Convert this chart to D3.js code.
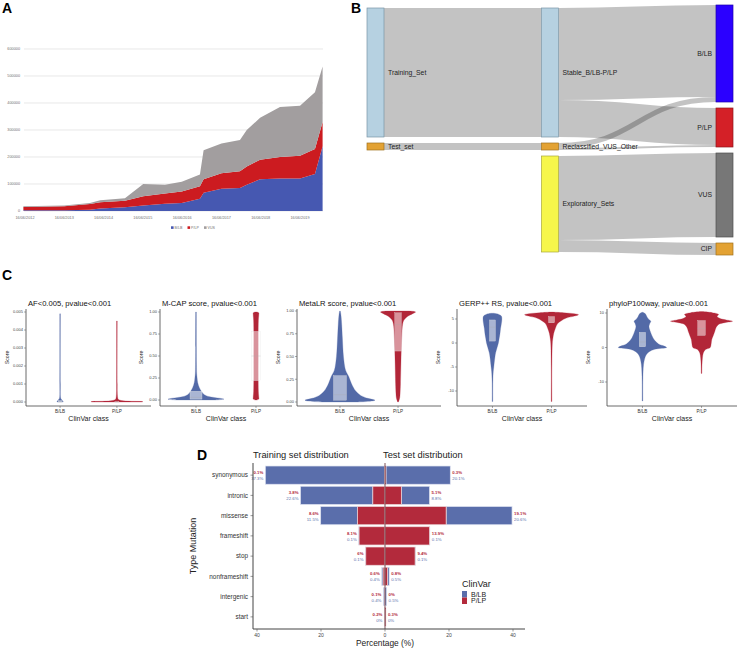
<!DOCTYPE html>
<html><head><meta charset="utf-8">
<script src="https://cdn.jsdelivr.net/npm/d3@7"></script>
<style>body{margin:0;background:#fff}svg{display:block;font-family:"Liberation Sans",Arial,sans-serif}</style>
</head><body><svg id="c" width="738" height="651"></svg>
<script>
// ================= DATA =================
// Panel A : ClinVar variants over time (stacked)
const aDates = ["2012-06-01","2013-06-16","2014-02-10","2014-05-16","2015-01-01","2015-06-20","2016-01-08","2016-06-12","2016-11-28","2017-01-01","2017-06-16","2017-12-05","2018-02-06","2018-06-10","2018-12-12","2019-06-16","2019-11-02","2020-01-12"];
const aBLB = [3000,3000,5000,9000,14000,20000,27000,30000,45000,68000,82000,85000,97000,118000,120000,120000,137000,240000];
const aPLP = [12000,15000,21000,23000,24000,35000,38000,42000,47000,50000,58000,62000,68000,72000,80000,85000,93000,90000];
const aVUS = [3000,2000,4000,8000,9000,45000,32000,36000,43000,107000,110000,116000,135000,155000,185000,185000,210000,205000];
const aSeries = ["B/LB","P/LP","VUS"];
const aYTicks = [0,100000,200000,300000,400000,500000,600000];
const aXTicks = ["16/06/2012","16/06/2013","16/06/2014","16/06/2015","16/06/2016","16/06/2017","16/06/2018","16/06/2019"];

// Panel B : Sankey
const bNodes = ["Training_Set","Test_set","Stable_B/LB-P/LP","Reclassified_VUS_Other","Exploratory_Sets","B/LB","P/LP","VUS","CIP"];
const bColumns = [0,0,1,1,1,2,2,2,2];
const bLinkSource = ["Training_Set","Test_set","Stable_B/LB-P/LP","Stable_B/LB-P/LP","Reclassified_VUS_Other","Reclassified_VUS_Other","Exploratory_Sets","Exploratory_Sets"];
const bLinkTarget = ["Stable_B/LB-P/LP","Reclassified_VUS_Other","B/LB","P/LP","B/LB","P/LP","VUS","CIP"];
const bLinkValue = [129,7,92,37,5,2,84,12];

// Panel C : violins  [score, relative density]
const cTitles = ["AF<0.005, pvalue<0.001","M-CAP score, pvalue<0.001","MetaLR score, pvalue<0.001","GERP++ RS, pvalue<0.001","phyloP100way, pvalue<0.001"];
const cClasses = ["B/LB","P/LP"];
const afBLB = [[0,0.12],[0.00005,0.11],[0.0001,0.08],[0.00015,0.05],[0.0002,0.028],[0.0003,0.015],[0.001,0.011],[0.0049,0.009]];
const afPLP = [[0,0.95],[0.00002,1],[0.00005,0.4],[0.0001,0.12],[0.00015,0.05],[0.0003,0.025],[0.0006,0.015],[0.001,0.011],[0.0045,0.009]];
const mcapBLB = [[0,0.7],[0.01,1],[0.02,0.85],[0.04,0.45],[0.06,0.3],[0.1,0.19],[0.14,0.12],[0.2,0.06],[0.25,0.04],[0.3,0.025],[0.4,0.018],[0.6,0.014],[1,0.01]];
const mcapPLP = [[0,0.03],[0.01,0.1],[0.03,0.1],[0.1,0.085],[0.5,0.08],[0.9,0.085],[0.97,0.1],[0.99,0.1],[1,0.03]];
const metaBLB = [[0,0.5],[0.01,0.9],[0.02,1],[0.04,0.8],[0.07,0.6],[0.12,0.45],[0.2,0.33],[0.28,0.25],[0.35,0.16],[0.5,0.1],[0.7,0.07],[0.85,0.05],[0.95,0.03],[1,0.01]];
const metaPLP = [[0,0.005],[0.02,0.03],[0.05,0.05],[0.1,0.06],[0.2,0.07],[0.46,0.085],[0.6,0.095],[0.75,0.11],[0.85,0.13],[0.9,0.17],[0.94,0.27],[0.97,0.42],[0.99,0.5],[1,0.3]];
const gerpBLB = [[-12.2,0.01],[-8,0.015],[-6,0.03],[-5,0.05],[-3,0.09],[-2,0.12],[-1,0.17],[0,0.22],[1,0.25],[2,0.28],[3,0.3],[4,0.33],[5,0.35],[5.6,0.33],[6,0.22],[6.2,0.05]];
const gerpPLP = [[-12.2,0.01],[-5,0.012],[0,0.03],[1,0.05],[2,0.08],[3,0.14],[4,0.22],[4.6,0.35],[5.2,0.55],[5.6,0.85],[5.9,1],[6.1,0.85],[6.3,0.45],[6.45,0.05]];
const phyloBLB = [[-15.5,0.005],[-10,0.012],[-7,0.02],[-5,0.035],[-3,0.08],[-2,0.13],[-1.2,0.22],[-0.5,0.4],[0,0.78],[0.4,0.7],[1,0.52],[2,0.4],[3,0.33],[4,0.28],[5,0.24],[6,0.21],[7,0.24],[7.6,0.27],[8.2,0.2],[9,0.14],[9.6,0.11],[10,0.06],[10.2,0.01]];
const phyloPLP = [[-7.5,0.005],[-5,0.015],[-3,0.03],[-1.5,0.06],[-0.6,0.13],[0,0.28],[1,0.31],[2.3,0.33],[3.5,0.38],[4.7,0.43],[5.8,0.47],[6.7,0.55],[7.2,0.75],[7.6,1],[8,0.8],[8.4,0.6],[9,0.5],[9.6,0.55],[10.1,0.35],[10.4,0.02]];
// boxes [q1, median, q3]
const afBox = [[0,0.00001,0.00008],[0,0.000005,0.00002]];
const mcapBox = [[0.01,0.03,0.1],[0.22,0.5,0.78]];
const metaBox = [[0.02,0.08,0.29],[0.56,0.85,0.98]];
const gerpBox = [[0.4,3.3,4.8],[4.2,5,5.5]];
const phyloBox = [[0.2,1.6,4.4],[3.5,5.5,7.8]];
const afTicks = [0,0.001,0.002,0.003,0.004,0.005];
const unitTicks = [0,0.25,0.5,0.75,1];
const gerpTicks = [-10,-5,0,5];
const phyloTicks = [-10,0,10];

// Panel D : mutation type distribution (%)
const dTypes = ["synonymous","intronic","missense","frameshift","stop","nonframeshift","intergenic","start"];
const dTrainBLB = [37.3,22.6,11.5,0.1,0.1,0.4,0.4,0];
const dTrainPLP = [0.1,3.8,8.6,8.1,6,0.6,0.1,0.2];
const dTestBLB = [20.1,8.8,20.6,0.1,0.1,0.5,0.5,0];
const dTestPLP = [0.3,5.1,19.1,13.9,9.4,0.8,0,0.3];
const dTicks = [-40,-20,0,20,40];

// ================= DRAW =================
const svg = d3.select("#c");
svg.append("rect").attr("width",738).attr("height",651).attr("fill","#fff");
function letter(t,x,y){svg.append("text").attr("x",x).attr("y",y).attr("font-size",14).attr("font-weight","bold").text(t);}
letter("A",2,13); letter("B",351,13); letter("C",2,280); letter("D",197,460);

// ---------- Panel A ----------
(function(){
  const g = svg.append("g");
  const parse = d3.timeParse("%Y-%m-%d"), parse2 = d3.timeParse("%d/%m/%Y");
  const x = d3.scaleTime().domain([parse("2012-06-16"),parse("2019-06-16")]).range([25,300]);
  const y = d3.scaleLinear().domain([0,600000]).range([211,49]);
  aYTicks.forEach(t=>{
    g.append("line").attr("x1",24).attr("x2",323).attr("y1",y(t)).attr("y2",y(t)).attr("stroke","#d9d9d9").attr("stroke-width",0.6);
    g.append("text").attr("x",20).attr("y",y(t)+1.3).attr("text-anchor","end").attr("font-size",3.8).attr("fill","#6f6f6f").text(t);
  });
  const rows = aDates.map((d,i)=>({date:parse(d),"B/LB":aBLB[i],"P/LP":aPLP[i],"VUS":aVUS[i]}));
  const st = d3.stack().keys(aSeries)(rows);
  const col = {"B/LB":"#4658b1","P/LP":"#cc1b20","VUS":"#a29e9f"};
  const area = d3.area().x(d=>x(d.data.date)).y0(d=>y(d[0])).y1(d=>y(d[1]));
  g.selectAll("path.ar").data(st).join("path").attr("d",area).attr("fill",d=>col[d.key]);
  aXTicks.forEach(s=>{
    g.append("text").attr("x",x(parse2(s))).attr("y",218.5).attr("text-anchor","middle").attr("font-size",3.8).attr("fill","#6f6f6f").text(s);
  });
  const lx = d3.scalePoint().domain(aSeries).range([171,204]);
  aSeries.forEach(k=>{
    g.append("rect").attr("x",lx(k)).attr("y",226.3).attr("width",2.6).attr("height",2.6).attr("fill",col[k]);
    g.append("text").attr("x",lx(k)+3.6).attr("y",228.8).attr("font-size",3.6).attr("fill","#6f6f6f").text(k);
  });
})();

// ---------- Panel B ----------
(function(){
  const g = svg.append("g");
  const nodes = bNodes.map((n,i)=>({name:n,col:bColumns[i],ins:[],outs:[]}));
  const byName = Object.fromEntries(nodes.map(n=>[n.name,n]));
  const links = bLinkSource.map((s,i)=>({source:byName[s],target:byName[bLinkTarget[i]],value:bLinkValue[i]}));
  links.forEach(l=>{l.source.outs.push(l);l.target.ins.push(l);});
  nodes.forEach(n=>n.value=Math.max(d3.sum(n.ins,l=>l.value),d3.sum(n.outs,l=>l.value)));
  const top=5,bottom=255,pad=6,nw=17;
  const cx = d3.scalePoint().domain([0,1,2]).range([367,716]);
  const cols = d3.groups(nodes,n=>n.col).map(d=>d[1]);
  const ky = d3.min(cols,c=>(bottom-top-(c.length-1)*pad)/d3.sum(c,n=>n.value));
  const sc = d3.scaleLinear().domain([0,1]).range([0,ky]);
  cols.forEach(c=>{
    const h = d3.sum(c,n=>sc(n.value))+(c.length-1)*pad;
    let yy = top+(bottom-top-h)/2;
    c.forEach(n=>{n.x0=cx(n.col);n.x1=n.x0+nw;n.y0=yy;n.y1=yy+sc(n.value);yy=n.y1+pad;});
  });
  nodes.filter(n=>n.col===0).forEach(n=>{const t=n.outs[0].target;n.y0=t.y0;n.y1=n.y0+sc(n.value);});
  nodes.forEach(n=>{
    let o=n.y0; n.outs.sort((a,b)=>a.target.y0-b.target.y0).forEach(l=>{l.sy=o+sc(l.value)/2;o+=sc(l.value);});
    let i=n.y0; n.ins.sort((a,b)=>a.source.y0-b.source.y0).forEach(l=>{l.ty=i+sc(l.value)/2;i+=sc(l.value);});
  });
  const lk = d3.linkHorizontal().source(d=>[d.source.x1,d.sy]).target(d=>[d.target.x0,d.ty]);
  g.selectAll("path.lk").data(links).join("path").attr("d",lk).attr("fill","none")
   .attr("stroke","#000").attr("stroke-opacity",0.235).attr("stroke-width",d=>sc(d.value));
  const fill = {"Training_Set":"#b6d1e1","Stable_B/LB-P/LP":"#b6d1e1","Test_set":"#e3a233","Reclassified_VUS_Other":"#e3a233","CIP":"#e3a233","Exploratory_Sets":"#f6f64b","B/LB":"#2b00ff","P/LP":"#d42027","VUS":"#777777"};
  const strokeC = {"Training_Set":"#7a95a6","Stable_B/LB-P/LP":"#7a95a6","Test_set":"#a0721f","Reclassified_VUS_Other":"#a0721f","CIP":"#a0721f","Exploratory_Sets":"#a8a83a","B/LB":"#1c00aa","P/LP":"#8e151a","VUS":"#4f4f4f"};
  g.selectAll("rect.nd").data(nodes).join("rect").attr("x",d=>d.x0).attr("y",d=>d.y0).attr("width",nw).attr("height",d=>d.y1-d.y0)
   .attr("fill",d=>fill[d.name]).attr("stroke",d=>strokeC[d.name]).attr("stroke-width",0.7);
  g.selectAll("text.nd").data(nodes).join("text")
   .attr("x",d=>d.col===2?d.x0-4:d.x1+4).attr("y",d=>(d.y0+d.y1)/2+2.4)
   .attr("text-anchor",d=>d.col===2?"end":"start").attr("font-size",6.8).attr("fill","#222").text(d=>d.name);
})();

// ---------- Panel C ----------
(function(){
  const blue="#536aa7", red="#b22638";
  const subs = [
    {title:cTitles[0],v:[afBLB,afPLP],box:[afBox[0],afBox[1]],ticks:afTicks,fmt:d3.format(".3f"),dom:[0,0.005],rng:[402,312],x0:26,x1:151,pad:0.6,mh:26,bh:[2,2]},
    {title:cTitles[1],v:[mcapBLB,mcapPLP],box:mcapBox,ticks:unitTicks,fmt:d3.format(".2f"),dom:[0,1],rng:[400,312],x0:160,x1:292,pad:0.6,mh:28,bh:[6,4.5]},
    {title:cTitles[2],v:[metaBLB,metaPLP],box:metaBox,ticks:unitTicks,fmt:d3.format(".2f"),dom:[0,1],rng:[402,311],x0:297,x1:441,pad:0.74,mh:35,bh:[6.5,3.3]},
    {title:cTitles[3],v:[gerpBLB,gerpPLP],box:gerpBox,ticks:gerpTicks,fmt:d=>String(d),dom:[-10,5],rng:[391,319],x0:457,x1:587,pad:0.6,mh:27,bh:[3,3]},
    {title:cTitles[4],v:[phyloBLB,phyloPLP],box:phyloBox,ticks:phyloTicks,fmt:d=>String(d),dom:[-10,10],rng:[382,313],x0:607,x1:737,pad:0.6,mh:31,bh:[3.2,3.8]}
  ];
  const yTop=309, yBot=406;
  subs.forEach(s=>{
    const g = svg.append("g");
    const y = d3.scaleLinear().domain(s.dom).range(s.rng);
    const x = d3.scalePoint().domain(cClasses).range([s.x0,s.x1]).padding(s.pad);
    const w = d3.scaleLinear().domain([0,1]).range([0,s.mh]);
    cClasses.forEach((c,i)=>{
      const cx = x(c);
      const ar = d3.area().curve(d3.curveCatmullRom).y(d=>y(d[0])).x0(d=>cx-Math.max(0.35,w(d[1]))).x1(d=>cx+Math.max(0.35,w(d[1])));
      g.append("path").attr("d",ar(s.v[i])).attr("fill",i?red:blue).attr("stroke",i?red:blue).attr("stroke-width",0.25);
      const b = s.box[i];
      g.append("rect").attr("x",cx-s.bh[i]).attr("width",2*s.bh[i]).attr("y",y(b[2])).attr("height",Math.max(0.5,y(b[0])-y(b[2])))
        .attr("fill","#fff").attr("fill-opacity",0.5).attr("stroke","#e4e4e4").attr("stroke-width",0.3);
      g.append("line").attr("x1",cx-s.bh[i]).attr("x2",cx+s.bh[i]).attr("y1",y(b[1])).attr("y2",y(b[1])).attr("stroke","#aaa").attr("stroke-width",0.3);
      g.append("line").attr("x1",cx).attr("x2",cx).attr("y1",yBot).attr("y2",yBot+2).attr("stroke","#555").attr("stroke-width",0.5);
      g.append("text").attr("x",cx).attr("y",413).attr("text-anchor","middle").attr("font-size",4.6).attr("fill","#333").text(c);
    });
    g.append("line").attr("x1",s.x0).attr("x2",s.x0).attr("y1",yTop).attr("y2",yBot).attr("stroke","#444").attr("stroke-width",0.8);
    g.append("line").attr("x1",s.x0).attr("x2",s.x1).attr("y1",yBot).attr("y2",yBot).attr("stroke","#444").attr("stroke-width",0.8);
    s.ticks.forEach(t=>{
      g.append("line").attr("x1",s.x0-2).attr("x2",s.x0).attr("y1",y(t)).attr("y2",y(t)).attr("stroke","#555").attr("stroke-width",0.5);
      g.append("text").attr("x",s.x0-3).attr("y",y(t)+1.4).attr("text-anchor","end").attr("font-size",4).attr("fill","#444").text(s.fmt(t));
    });
    g.append("text").attr("transform",`translate(${s.x0-17},${(yTop+yBot)/2}) rotate(-90)`).attr("text-anchor","middle").attr("font-size",5.2).attr("fill","#222").text("Score");
    g.append("text").attr("x",(s.x0+s.x1)/2).attr("y",421).attr("text-anchor","middle").attr("font-size",7).attr("fill","#222").text("ClinVar class");
    g.append("text").attr("x",s.x0+2).attr("y",306).attr("font-size",7.6).attr("fill","#111").text(s.title);
  });
})();

// ---------- Panel D ----------
(function(){
  const g = svg.append("g");
  const blue="#5a6eab", red="#b32a3c";
  const x = d3.scaleLinear().domain([-40,40]).range([257,513]);
  const y = d3.scaleBand().domain(dTypes).range([465,627]).paddingInner(0.1).paddingOuter(0.05);
  const bh = y.bandwidth();
  const rows = dTypes.map((t,i)=>({t,lb:dTrainBLB[i],lp:dTrainPLP[i],rb:dTestBLB[i],rp:dTestPLP[i]}));
  rows.forEach(r=>{
    const yy=y(r.t);
    g.append("rect").attr("x",x(-(r.lp+r.lb))).attr("width",x(-r.lp)-x(-(r.lp+r.lb))).attr("y",yy).attr("height",bh).attr("fill",blue).attr("stroke","#dfe3f1").attr("stroke-width",0.7);
    g.append("rect").attr("x",x(-r.lp)).attr("width",x(0)-x(-r.lp)).attr("y",yy).attr("height",bh).attr("fill",red).attr("stroke","#ecd9dc").attr("stroke-width",0.7);
    g.append("rect").attr("x",x(r.rp)).attr("width",x(r.rp+r.rb)-x(r.rp)).attr("y",yy).attr("height",bh).attr("fill",blue).attr("stroke","#dfe3f1").attr("stroke-width",0.7);
    g.append("rect").attr("x",x(0)).attr("width",x(r.rp)-x(0)).attr("y",yy).attr("height",bh).attr("fill",red).attr("stroke","#ecd9dc").attr("stroke-width",0.7);
    const cy = yy+bh/2;
    const lx = x(-(r.lp+r.lb))-2, rx = x(r.rp+r.rb)+2;
    const fmt = v=>v+"%";
    g.append("text").attr("x",lx).attr("y",cy-1).attr("text-anchor","end").attr("font-size",4.3).attr("font-weight","bold").attr("fill",red).text(fmt(r.lp));
    g.append("text").attr("x",lx).attr("y",cy+5).attr("text-anchor","end").attr("font-size",4.3).attr("fill",blue).text(fmt(r.lb));
    g.append("text").attr("x",rx).attr("y",cy-1).attr("font-size",4.3).attr("font-weight","bold").attr("fill",red).text(fmt(r.rp));
    g.append("text").attr("x",rx).attr("y",cy+5).attr("font-size",4.3).attr("fill",blue).text(fmt(r.rb));
    g.append("line").attr("x1",250.5).attr("x2",253).attr("y1",cy).attr("y2",cy).attr("stroke","#555").attr("stroke-width",0.6);
    g.append("text").attr("x",248).attr("y",cy+2.3).attr("text-anchor","end").attr("font-size",6.4).attr("fill","#333").text(r.t);
  });
  g.append("line").attr("x1",x(0)).attr("x2",x(0)).attr("y1",463).attr("y2",629).attr("stroke","#5b2830").attr("stroke-width",0.8);
  g.append("line").attr("x1",253).attr("x2",253).attr("y1",463).attr("y2",629).attr("stroke","#444").attr("stroke-width",1);
  g.append("line").attr("x1",253).attr("x2",525).attr("y1",629).attr("y2",629).attr("stroke","#444").attr("stroke-width",1);
  dTicks.forEach(t=>{
    g.append("line").attr("x1",x(t)).attr("x2",x(t)).attr("y1",629).attr("y2",631.5).attr("stroke","#555").attr("stroke-width",0.6);
    g.append("text").attr("x",x(t)).attr("y",637).attr("text-anchor","middle").attr("font-size",5).attr("fill","#444").text(Math.abs(t));
  });
  g.append("text").attr("x",x(0)).attr("y",646).attr("text-anchor","middle").attr("font-size",8.4).attr("fill","#222").text("Percentage (%)");
  g.append("text").attr("transform","translate(196,546) rotate(-90)").attr("text-anchor","middle").attr("font-size",9).attr("fill","#222").text("Type Mutation");
  g.append("text").attr("x",253).attr("y",458).attr("font-size",9.3).attr("fill","#222").text("Training set distribution");
  g.append("text").attr("x",383).attr("y",458).attr("font-size",9.3).attr("fill","#222").text("Test set distribution");
  g.append("text").attr("x",462).attr("y",587).attr("font-size",9).attr("fill","#222").text("ClinVar");
  const ly = d3.scaleBand().domain(["B/LB","P/LP"]).range([591,604]);
  [["B/LB",blue],["P/LP",red]].forEach(([k,c])=>{
    g.append("rect").attr("x",462).attr("y",ly(k)).attr("width",5).attr("height",ly.bandwidth()).attr("fill",c);
    g.append("text").attr("x",471).attr("y",ly(k)+5.6).attr("font-size",7).attr("fill","#222").text(k);
  });
})();
</script></body></html>
